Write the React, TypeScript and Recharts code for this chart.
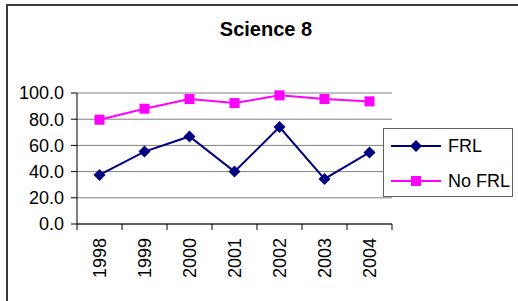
import { LineChart, Line, XAxis, YAxis, CartesianGrid } from "recharts"

const years = ["1998", "1999", "2000", "2001", "2002", "2003", "2004"]
const frl = [37.5, 55.3, 66.8, 40.0, 74.0, 34.4, 54.6]
const noFrl = [79.6, 88.0, 95.4, 92.3, 98.2, 95.4, 93.6]
const yTicks = [0, 20, 40, 60, 80, 100]
const seriesNames = ["FRL", "No FRL"]
const seriesColors = ["#000080", "#FF00FF"]

const W = 518
const H = 301
const LEFT = 77
const RIGHT = 126
const TOP = 93
const BOTTOM = 77
const BAND = (W - LEFT - RIGHT) / years.length
const FONT = "'Liberation Sans', Arial, sans-serif"

const data = years.map((y, i) => ({ year: y, [seriesNames[0]]: frl[i], [seriesNames[1]]: noFrl[i] }))

const Diamond = ({ cx, cy, fill }: any) => (
  <path d={`M${cx},${cy - 6}L${cx + 6},${cy}L${cx},${cy + 6}L${cx - 6},${cy}Z`} fill={fill} />
)
const Square = ({ cx, cy, fill }: any) => (
  <rect x={cx - 5} y={cy - 5} width={10} height={10} fill={fill} />
)

const XTick = ({ x, y, payload, index }: any) => (
  <g>
    <line x1={x - BAND / 2} x2={x - BAND / 2} y1={y} y2={y + 6} stroke="#000" />
    {index === years.length - 1 && (
      <line x1={x + BAND / 2} x2={x + BAND / 2} y1={y} y2={y + 6} stroke="#000" />
    )}
    <text
      transform={`translate(${x + 6},${y + 14}) rotate(-90)`}
      textAnchor="end"
      fontSize={18}
      fontFamily={FONT}
      fill="#000"
    >
      {payload.value}
    </text>
  </g>
)

const LegendBox = () => (
  <div
    style={{
      position: "absolute",
      left: 383,
      top: 128,
      width: 128,
      height: 67,
      border: "1px solid #606060",
      background: "#fff",
      fontFamily: FONT,
      fontSize: 18,
    }}
  >
    {seriesNames.map((name, i) => (
      <div key={name} style={{ display: "flex", alignItems: "center", height: 34, marginTop: i === 0 ? 0 : 1 }}>
        <svg width={62} height={34} style={{ display: "block" }}>
          <line x1={7} x2={57} y1={17} y2={17} stroke={seriesColors[i]} strokeWidth={2} />
          {i === 0 ? <Diamond cx={32} cy={17} fill={seriesColors[i]} /> : <Square cx={32} cy={17} fill={seriesColors[i]} />}
        </svg>
        <span style={{ marginLeft: 2, color: "#000" }}>{name}</span>
      </div>
    ))}
  </div>
)

export default function App() {
  return (
    <div style={{ position: "absolute", left: 0, top: 0, width: W, height: H, background: "#fff", overflow: "hidden" }}>
      <div
        style={{
          position: "absolute",
          left: 6,
          top: 4,
          width: W,
          height: H,
          borderTop: "2px solid #3a3a3a",
          borderLeft: "2px solid #3a3a3a",
        }}
      />
      <div
        style={{
          position: "absolute",
          left: 0,
          width: 532,
          top: 18,
          textAlign: "center",
          fontFamily: FONT,
          fontWeight: "bold",
          fontSize: 20,
          color: "#000",
        }}
      >
        Science 8
      </div>
      <div style={{ position: "absolute", left: 0, top: 0 }}>
        <LineChart width={W} height={H} data={data} margin={{ top: TOP, right: RIGHT, bottom: 0, left: 0 }}>
          <CartesianGrid vertical={false} stroke="#808080" yAxisId="l" />
          <XAxis
            dataKey="year"
            height={BOTTOM}
            padding={{ left: BAND / 2, right: BAND / 2 }}
            axisLine={{ stroke: "#000" }}
            tickLine={false}
            tickSize={0}
            tickMargin={0}
            interval={0}
            tick={<XTick />}
          />
          <YAxis
            yAxisId="l"
            width={LEFT}
            domain={[0, 100]}
            ticks={yTicks}
            interval={0}
            tickFormatter={(v: number) => v.toFixed(1)}
            axisLine={{ stroke: "#000" }}
            tickLine={{ stroke: "#000" }}
            tickSize={6}
            tickMargin={7}
            tick={{ fontSize: 18, fill: "#000", fontFamily: FONT }}
          />
          <YAxis
            yAxisId="r"
            orientation="right"
            width={0}
            domain={[0, 100]}
            tick={false}
            tickLine={false}
            axisLine={{ stroke: "#808080" }}
          />
          <Line
            yAxisId="l"
            dataKey={seriesNames[0]}
            stroke={seriesColors[0]}
            strokeWidth={2}
            dot={(p: any) => <Diamond key={`d${p.index}`} cx={p.cx} cy={p.cy} fill={seriesColors[0]} />}
            isAnimationActive={false}
          />
          <Line
            yAxisId="l"
            dataKey={seriesNames[1]}
            stroke={seriesColors[1]}
            strokeWidth={2}
            dot={(p: any) => <Square key={`s${p.index}`} cx={p.cx} cy={p.cy} fill={seriesColors[1]} />}
            isAnimationActive={false}
          />
        </LineChart>
      </div>
      <LegendBox />
    </div>
  )
}
